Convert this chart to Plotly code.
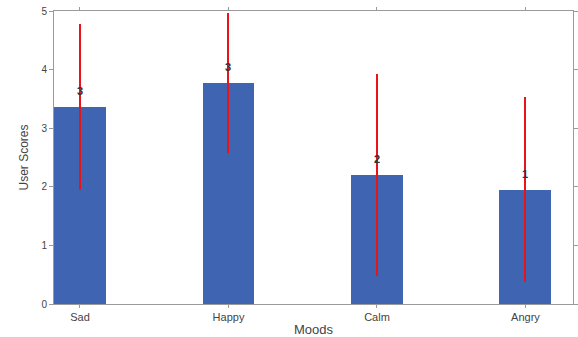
import plotly.graph_objects as go

# Mean user score per mood, with its spread
moods = ["Sad", "Happy", "Calm", "Angry"]
mean_scores = [3.36, 3.77, 2.20, 1.95]
score_spread = [1.42, 1.19, 1.72, 1.58]
count_labels = ["3", "3", "2", "1"]
y_ticks = [0, 1, 2, 3, 4, 5]

bar_color = "#3F64B2"
axis_color = "#9a9a9a"
text_color = "#444444"

fig = go.Figure()
fig.add_trace(go.Bar(
    x=list(range(len(moods))),
    y=mean_scores,
    width=0.35,
    marker=dict(color=bar_color, line=dict(width=0)),
    error_y=dict(type="data", array=score_spread, visible=True,
                 color="#e8141a", thickness=2, width=0),
    showlegend=False,
))

# Count labels sitting just above each bar
for i, (v, lab) in enumerate(zip(mean_scores, count_labels)):
    fig.add_annotation(x=i, y=v, text=f"<b>{lab}</b>", showarrow=False,
                       yshift=16, font=dict(size=11, color="#333333"))

fig.update_layout(
    width=578, height=337,
    margin=dict(l=54, r=5, t=11, b=33, autoexpand=False),
    paper_bgcolor="white", plot_bgcolor="white",
    font=dict(family="Liberation Sans, Arial, sans-serif", color=text_color, size=11),
    bargap=0,
)
fig.update_xaxes(
    automargin=False,
    range=[-0.175, 3.32],
    tickmode="array", tickvals=list(range(len(moods))), ticktext=moods,
    showline=True, linecolor=axis_color, linewidth=1, mirror="ticks",
    ticks="outside", ticklen=3, tickcolor=axis_color,
    showgrid=False, zeroline=False,
    title=dict(text="Moods", font=dict(size=13, color=text_color), standoff=2),
    tickfont=dict(size=11, color=text_color),
)
fig.update_yaxes(
    automargin=False,
    range=[0, 5],
    tickmode="array", tickvals=y_ticks,
    showline=True, linecolor=axis_color, linewidth=1, mirror="ticks",
    ticks="outside", ticklen=4, tickcolor=axis_color,
    showgrid=False, zeroline=False,
    title=dict(text="User Scores", font=dict(size=12, color=text_color), standoff=10),
    tickfont=dict(size=10, color=text_color),
)

fig.write_html("out.html")
